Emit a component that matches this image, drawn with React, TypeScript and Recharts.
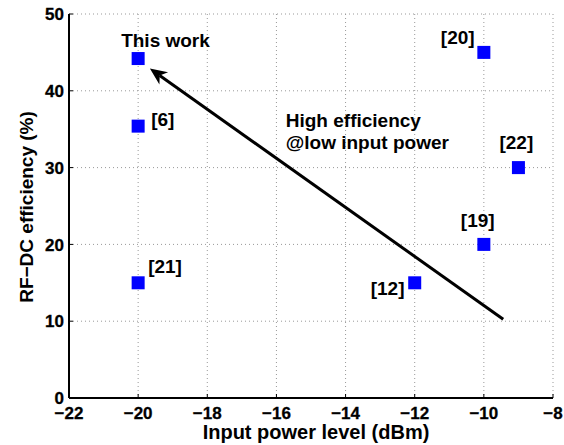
import React from 'react';
import { ScatterChart, Scatter, XAxis, YAxis, CartesianGrid, ReferenceLine } from 'recharts';

const inputPower = [-20, -20, -20, -12, -10, -10, -9];
const efficiency = [44.2, 35.4, 15, 15, 20, 45, 30];
const pointLabels = ['This work', '[6]', '[21]', '[12]', '[19]', '[20]', '[22]'];
const xTicks = [-22, -20, -18, -16, -14, -12, -10, -8];
const yTicks = [0, 10, 20, 30, 40, 50];
const arrowFrom = { x: -9.44, y: 10.25 };
const arrowTo = { x: -19.66, y: 42.9 };
const noteLines = ['High efficiency', '@low input power'];
const notePos = [{ x: -15.73, y: 35.29 }];

const FONT = '"Liberation Sans", Arial, Helvetica, sans-serif';

const points = inputPower.map((x, i) => ({ x, y: efficiency[i], label: pointLabels[i] }));

// label placement relative to the marker centre (px): [dx of text start, dy of baseline]
const labelOffset: Record<string, [number, number]> = {
  'This work': [-17, -12],
  '[6]': [13, 0],
  '[21]': [10, -10],
  '[12]': [-44, 12],
  '[19]': [-23, -17],
  '[20]': [-43, -8],
  '[22]': [-19, -19],
};

const PointShape = (props: any) => {
  const { cx, cy, payload } = props;
  const off = labelOffset[payload.label] || [0, 0];
  return (
    <g>
      <rect x={cx - 6.5} y={cy - 6.5} width={13} height={13} fill="#0000ff" />
      <text x={cx + off[0]} y={cy + off[1]} fontSize={19} fontWeight="bold" fontFamily={FONT} fill="#000">
        {payload.label}
      </text>
    </g>
  );
};

const NoteShape = (props: any) => {
  const { cx, cy } = props;
  return (
    <g>
      {noteLines.map((t, i) => (
        <text key={i} x={cx} y={cy + i * 22} fontSize={19} fontWeight="bold" fontFamily={FONT} fill="#000">
          {t}
        </text>
      ))}
    </g>
  );
};

const ArrowShape = (props: any) => {
  const { x1, y1, x2, y2 } = props;
  const dx = x2 - x1;
  const dy = y2 - y1;
  const len = Math.hypot(dx, dy) || 1;
  const ux = dx / len;
  const uy = dy / len;
  const px = -uy;
  const py = ux;
  const headLen = 17;
  const headW = 7.5;
  const notch = 12;
  const bx = x2 - ux * headLen;
  const by = y2 - uy * headLen;
  const nx = x2 - ux * notch;
  const ny = y2 - uy * notch;
  return (
    <g>
      <line x1={x1} y1={y1} x2={nx} y2={ny} stroke="#000" strokeWidth={3} />
      <polygon
        points={`${x2},${y2} ${bx + px * headW},${by + py * headW} ${nx},${ny} ${bx - px * headW},${by - py * headW}`}
        fill="#000"
      />
    </g>
  );
};

const fmt = (v: number) => String(v).replace('-', '\u2212');

const XTick = (props: any) => {
  const { x, y, payload } = props;
  return (
    <text x={x} y={y} dy="0.71em" textAnchor="middle" fontSize={17} fontWeight="bold" fontFamily={FONT} fill="#000" stroke="#000" strokeWidth={0.3}>
      {fmt(payload.value)}
    </text>
  );
};

const YTick = (props: any) => {
  const { x, y, payload } = props;
  return (
    <text x={x} y={y} dy="0.36em" textAnchor="end" fontSize={17} fontWeight="bold" fontFamily={FONT} fill="#000" stroke="#000" strokeWidth={0.3}>
      {fmt(payload.value)}
    </text>
  );
};

const axisLineStyle = { stroke: '#000', strokeWidth: 2 };

export default function App() {
  return (
    <div style={{ position: 'absolute', left: 0, top: 0 }}>
      <ScatterChart width={564} height={445} margin={{ top: 14, right: 11, bottom: 0, left: 0 }}>
        <CartesianGrid stroke="#999" strokeDasharray="1 3" xAxisId={0} yAxisId={0} />
        <XAxis
          xAxisId={0}
          type="number"
          dataKey="x"
          domain={[-22, -8]}
          ticks={xTicks}
          interval={0}
          height={47}
          tick={XTick}
          tickSize={-4}
          tickMargin={13}
          tickLine={{ stroke: '#000' }}
          axisLine={axisLineStyle}
          allowDataOverflow
          label={{
            content: (p: any) => {
              const vb = p.viewBox;
              return (
                <text
                  x={vb.x + vb.width / 2 + 5}
                  y={vb.y + vb.height - 6}
                  textAnchor="middle"
                  fontSize={20}
                  fontWeight="bold"
                  fontFamily={FONT}
                  fill="#000"
                >
                  Input power level (dBm)
                </text>
              );
            },
          }}
        />
        <XAxis
          xAxisId="top"
          orientation="top"
          type="number"
          dataKey="x"
          domain={[-22, -8]}
          ticks={xTicks}
          interval={0}
          height={0}
          tickFormatter={() => ''}
          tickSize={-4}
          tickLine={{ stroke: '#000' }}
          axisLine={axisLineStyle}
          allowDataOverflow
        />
        <YAxis
          yAxisId={0}
          type="number"
          dataKey="y"
          domain={[0, 50]}
          ticks={yTicks}
          interval={0}
          width={69}
          tick={YTick}
          tickSize={-4}
          tickMargin={9}
          tickLine={{ stroke: '#000' }}
          axisLine={axisLineStyle}
          allowDataOverflow
          label={{
            content: () => {
              const cx = 33;
              const cy = 207;
              return (
                <text
                  x={cx}
                  y={cy}
                  transform={`rotate(-90 ${cx} ${cy})`}
                  textAnchor="middle"
                  fontSize={19}
                  fontWeight="bold"
                  fontFamily={FONT}
                  fill="#000"
                >
                  RF{'\u2212'}DC efficiency (%)
                </text>
              );
            },
          }}
        />
        <YAxis
          yAxisId="right"
          orientation="right"
          type="number"
          dataKey="y"
          domain={[0, 50]}
          ticks={yTicks}
          interval={0}
          width={0}
          tickFormatter={() => ''}
          tickSize={-4}
          tickLine={{ stroke: '#000' }}
          axisLine={axisLineStyle}
          allowDataOverflow
        />
        <ReferenceLine
          xAxisId={0}
          yAxisId={0}
          segment={[arrowFrom, arrowTo]}
          shape={ArrowShape}
          ifOverflow="visible"
        />
        <Scatter xAxisId={0} yAxisId={0} data={notePos} shape={NoteShape} isAnimationActive={false} />
        <Scatter xAxisId={0} yAxisId={0} data={points} shape={PointShape} isAnimationActive={false} />
      </ScatterChart>
    </div>
  );
}
